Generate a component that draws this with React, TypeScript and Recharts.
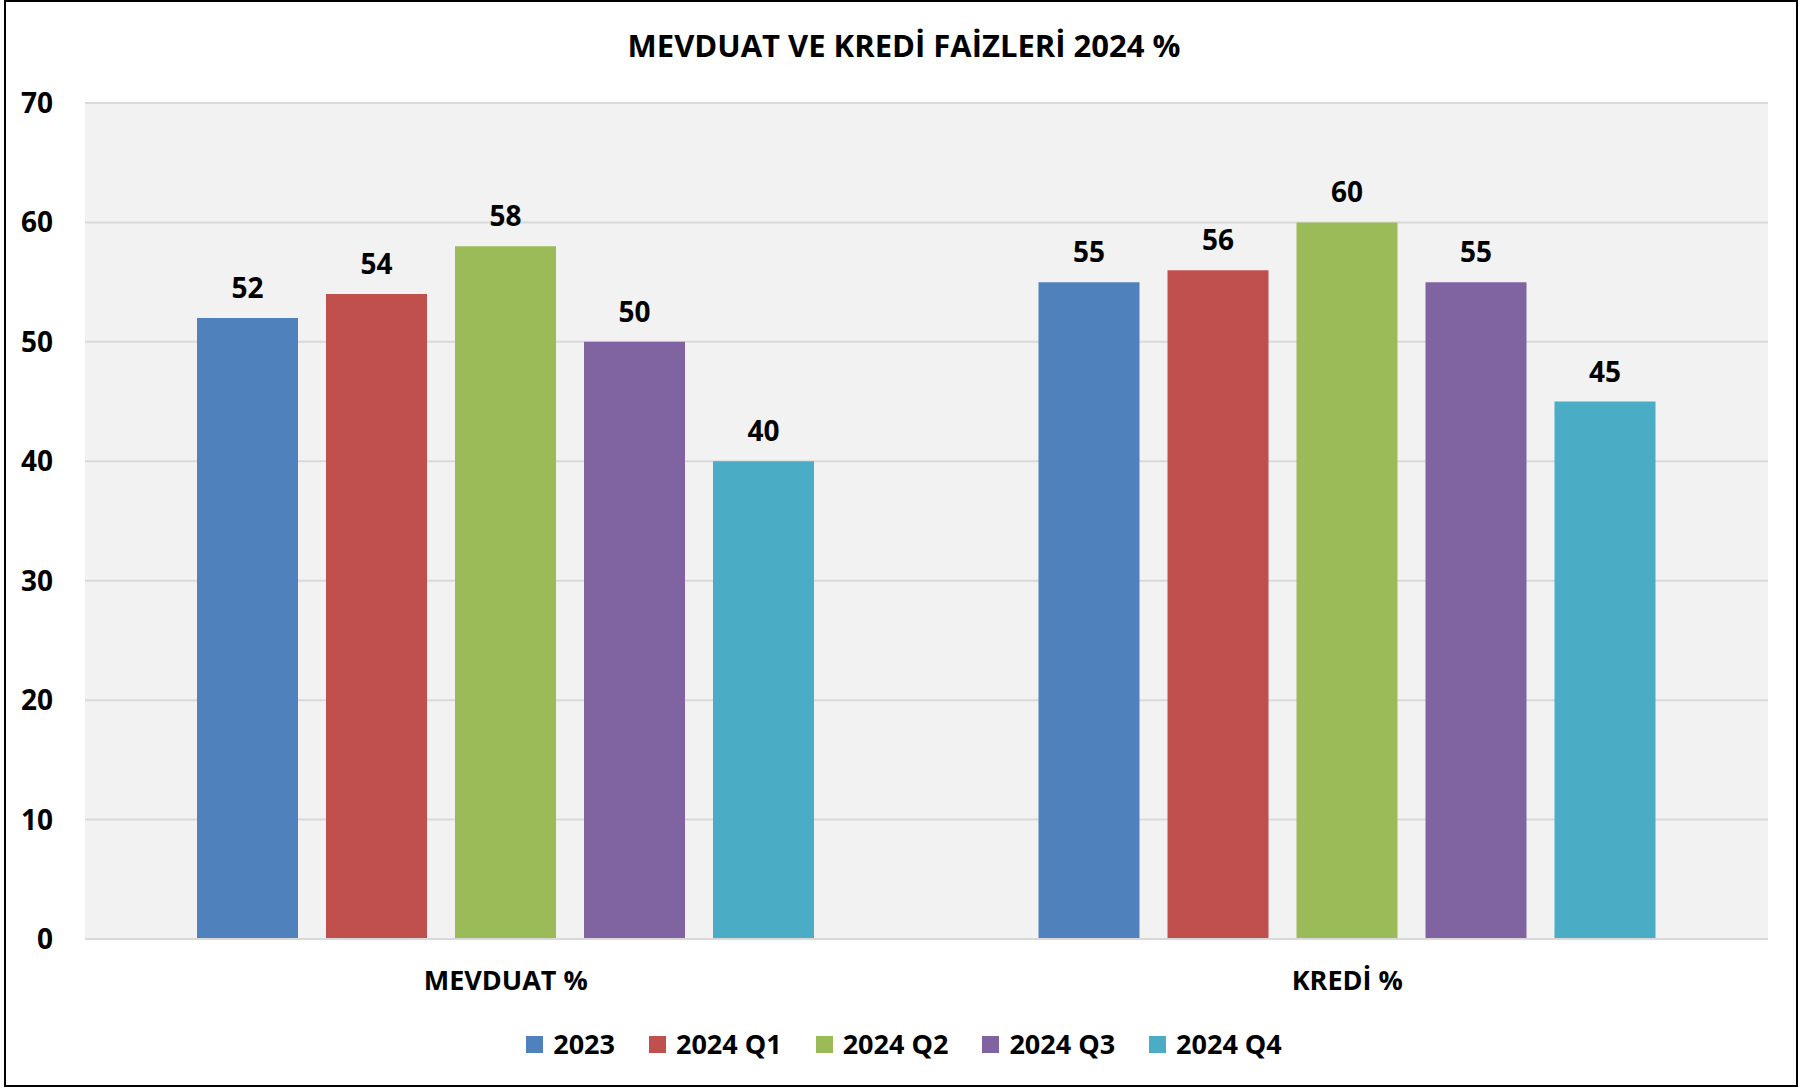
import React from "react";
import {
  BarChart,
  Bar,
  XAxis,
  YAxis,
  CartesianGrid,
  LabelList,
} from "recharts";

const categories = ["MEVDUAT %", "KREDİ %"];
const s2023 = [52, 55];
const s2024q1 = [54, 56];
const s2024q2 = [58, 60];
const s2024q3 = [50, 55];
const s2024q4 = [40, 45];
const yTicks = [0, 10, 20, 30, 40, 50, 60, 70];

const series = [
  { key: "2023", values: s2023, color: "#4F81BD" },
  { key: "2024 Q1", values: s2024q1, color: "#C0504D" },
  { key: "2024 Q2", values: s2024q2, color: "#9BBB59" },
  { key: "2024 Q3", values: s2024q3, color: "#8064A2" },
  { key: "2024 Q4", values: s2024q4, color: "#4BACC6" },
];

const data = categories.map((name, i) => {
  const row: Record<string, string | number> = { name };
  series.forEach((s) => (row[s.key] = s.values[i]));
  return row;
});

const FONT = "'Open Sans', sans-serif";

export default function App() {
  return (
    <div
      style={{
        position: "fixed",
        left: 0,
        top: 0,
        width: 1808,
        height: 1087,
        background: "#fff",
      }}
    >
      <div
        style={{
          position: "absolute",
          left: 4,
          top: 0,
          width: 1794,
          height: 1087,
          border: "2px solid #000",
          boxSizing: "border-box",
        }}
      />
      <div
        style={{
          position: "absolute",
          left: 0,
          width: 1808,
          top: 24,
          textAlign: "center",
          fontFamily: FONT,
          fontWeight: 700,
          fontSize: 31,
          lineHeight: "42px",
          color: "#000",
        }}
      >
        MEVDUAT VE KREDİ FAİZLERİ 2024 %
      </div>
      <div style={{ position: "absolute", left: 0, top: 0 }}>
        <BarChart
          width={1808}
          height={1087}
          data={data}
          margin={{ top: 103, right: 40, bottom: 118, left: 0 }}
          barGap={28}
          barCategoryGap={112}
        >
          <CartesianGrid
            vertical={false}
            stroke="#D9D9D9"
            strokeWidth={2}
            fill="#F2F2F2"
          />
          <XAxis
            dataKey="name"
            height={30}
            axisLine={{ stroke: "#D9D9D9", strokeWidth: 2 }}
            tickLine={false}
            tickSize={0}
            tickMargin={32}
            tick={{ fontFamily: FONT, fontWeight: 700, fontSize: 27, fill: "#000" }}
          />
          <YAxis
            domain={[0, 70]}
            ticks={yTicks}
            width={85}
            axisLine={false}
            tickLine={false}
            tickSize={0}
            tickMargin={32}
            tick={{ fontFamily: FONT, fontWeight: 700, fontSize: 28, fill: "#000" }}
          />
          {series.map((s) => (
            <Bar
              key={s.key}
              dataKey={s.key}
              fill={s.color}
              isAnimationActive={false}
            >
              <LabelList
                dataKey={s.key}
                position="top"
                offset={20}
                style={{ fontFamily: FONT, fontWeight: 700, fontSize: 28, fill: "#000" }}
              />
            </Bar>
          ))}
        </BarChart>
      </div>
      <div
        style={{
          position: "absolute",
          left: 0,
          width: 1808,
          top: 1025,
          display: "flex",
          justifyContent: "center",
          alignItems: "center",
          gap: 34,
          fontFamily: FONT,
          fontWeight: 700,
          fontSize: 27,
          lineHeight: "38px",
          color: "#000",
        }}
      >
        {series.map((s) => (
          <div key={s.key} style={{ display: "flex", alignItems: "center" }}>
            <span
              style={{
                width: 17,
                height: 17,
                background: s.color,
                display: "inline-block",
                marginRight: 10,
              }}
            />
            <span>{s.key}</span>
          </div>
        ))}
      </div>
    </div>
  );
}
